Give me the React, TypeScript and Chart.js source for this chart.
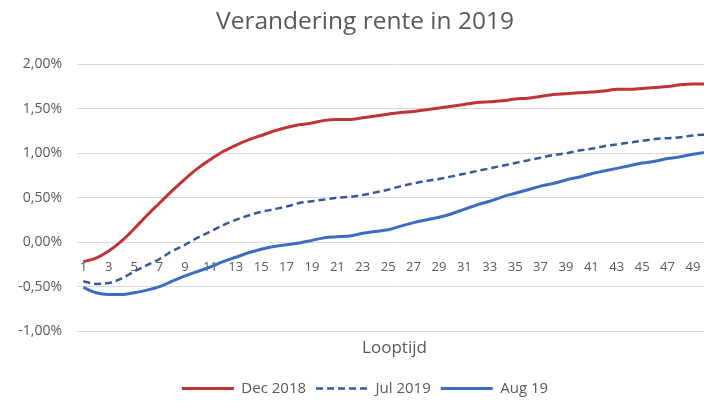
import React, { useEffect, useRef } from "react";
import { Chart, registerables } from "chart.js";

Chart.register(...registerables);

const title = "Verandering rente in 2019";
const xTitle = "Looptijd";
const categories = Array.from({ length: 50 }, (_, i) => String(i + 1));

const dec2018 = [
  -0.22, -0.18, -0.1, 0.01, 0.15, 0.3, 0.44, 0.58, 0.71, 0.83,
  0.93, 1.02, 1.09, 1.15, 1.2, 1.25, 1.29, 1.32, 1.34, 1.37,
  1.38, 1.38, 1.4, 1.42, 1.44, 1.46, 1.47, 1.49, 1.51, 1.53,
  1.55, 1.57, 1.58, 1.59, 1.61, 1.62, 1.64, 1.66, 1.67, 1.68,
  1.69, 1.7, 1.72, 1.72, 1.73, 1.74, 1.75, 1.77, 1.78, 1.78,
];

const jul2019 = [
  -0.44, -0.47, -0.46, -0.41, -0.33, -0.26, -0.19, -0.1, -0.03, 0.05,
  0.12, 0.19, 0.25, 0.3, 0.34, 0.37, 0.4, 0.44, 0.46, 0.48,
  0.5, 0.51, 0.53, 0.56, 0.59, 0.63, 0.66, 0.69, 0.71, 0.74,
  0.77, 0.8, 0.83, 0.86, 0.89, 0.92, 0.95, 0.98, 1.0, 1.03,
  1.05, 1.08, 1.1, 1.12, 1.14, 1.16, 1.17, 1.18, 1.2, 1.21,
];

const aug19 = [
  -0.51, -0.57, -0.59, -0.59, -0.57, -0.54, -0.5, -0.44, -0.38, -0.33,
  -0.28, -0.22, -0.17, -0.12, -0.08, -0.05, -0.03, -0.01, 0.02, 0.05,
  0.06, 0.07, 0.1, 0.12, 0.14, 0.18, 0.22, 0.25, 0.28, 0.32,
  0.37, 0.42, 0.46, 0.51, 0.55, 0.59, 0.63, 0.66, 0.7, 0.73,
  0.77, 0.8, 0.83, 0.86, 0.89, 0.91, 0.94, 0.96, 0.99, 1.01,
];

const seriesNames = ["Dec 2018", "Jul 2019", "Aug 19"];
const yMin = -1;
const yMax = 2;
const yStep = 0.5;

const textColor = "#595959";
const gridColor = "#d9d9d9";

export default function App() {
  const ref = useRef<HTMLCanvasElement | null>(null);

  useEffect(() => {
    if (!ref.current) return;
    Chart.defaults.font.family = "'Open Sans', sans-serif";
    const baseGen = Chart.defaults.plugins.legend.labels.generateLabels;
    const chart = new Chart(ref.current, {
      type: "line",
      data: {
        labels: categories,
        datasets: [
          {
            label: seriesNames[0],
            data: dec2018,
            borderColor: "#bf3535",
            backgroundColor: "#bf3535",
            borderWidth: 3,
            pointRadius: 0,
            cubicInterpolationMode: "monotone",
            xAxisID: "x",
          },
          {
            label: seriesNames[1],
            data: jul2019,
            borderColor: "#37599a",
            backgroundColor: "#37599a",
            borderWidth: 2.5,
            borderDash: [7, 4],
            pointRadius: 0,
            cubicInterpolationMode: "monotone",
            xAxisID: "x",
          },
          {
            label: seriesNames[2],
            data: aug19,
            borderColor: "#3e6cbf",
            backgroundColor: "#3e6cbf",
            borderWidth: 3,
            pointRadius: 0,
            cubicInterpolationMode: "monotone",
            xAxisID: "x",
          },
        ],
      },
      options: {
        animation: false,
        responsive: false,
        devicePixelRatio: 1,
        layout: { padding: { left: 18, right: 20, top: 0, bottom: 0 } },
        plugins: {
          title: {
            display: true,
            text: title,
            color: textColor,
            font: { size: 24.5, weight: "normal" },
            padding: { top: 7, bottom: 28 },
          },
          legend: {
            position: "bottom",
            maxHeight: 30,
            labels: {
              usePointStyle: true,
              pointStyle: "line",
              pointStyleWidth: 52,
              color: textColor,
              font: { size: 15 },
              padding: 10,
              generateLabels: (c: any) =>
                baseGen(c).map((item: any) => {
                  const ds: any = c.data.datasets[item.datasetIndex];
                  return {
                    ...item,
                    pointStyle: "line",
                    lineDash: ds.borderDash || [],
                    lineWidth: ds.borderWidth,
                    strokeStyle: ds.borderColor,
                    fillStyle: ds.borderColor,
                  };
                }),
            },
          },
          tooltip: { enabled: false },
        },
        scales: {
          x: {
            type: "category",
            position: { y: 0 } as any,
            offset: true,
            grid: { display: false, drawTicks: false },
            border: { display: false },
            ticks: {
              autoSkip: false,
              maxRotation: 0,
              minRotation: 0,
              padding: 17,
              color: textColor,
              font: { size: 13 },
              callback: (_v: any, i: number) => (i % 2 === 0 ? categories[i] : ""),
            },
          },
          x2: {
            type: "category",
            position: "bottom",
            labels: categories,
            grid: { display: false, drawTicks: false },
            border: { display: false },
            ticks: { display: false },
            title: {
              display: true,
              text: xTitle,
              color: textColor,
              font: { size: 17 },
              padding: { top: 0, bottom: 13 },
            },
            afterFit: (s: any) => {
              s.height = 40;
            },
          },
          y: {
            min: yMin,
            max: yMax,
            grid: { color: gridColor, lineWidth: 1, drawTicks: false },
            border: { display: false },
            ticks: {
              stepSize: yStep,
              padding: 15,
              color: textColor,
              font: { size: 14 },
              callback: (v: any) => Number(v).toFixed(2).replace(".", ",") + "%",
            },
            afterFit: (s: any) => {
              s.width = 59;
            },
          },
        },
      },
    });
    return () => chart.destroy();
  }, []);

  return (
    <div
      style={{
        position: "fixed",
        left: 0,
        top: 0,
        width: 704,
        height: 401,
        overflow: "hidden",
        background: "#fff",
      }}
    >
      <canvas ref={ref} width={732} height={401} style={{ width: 732, height: 401, display: "block" }} />
    </div>
  );
}
